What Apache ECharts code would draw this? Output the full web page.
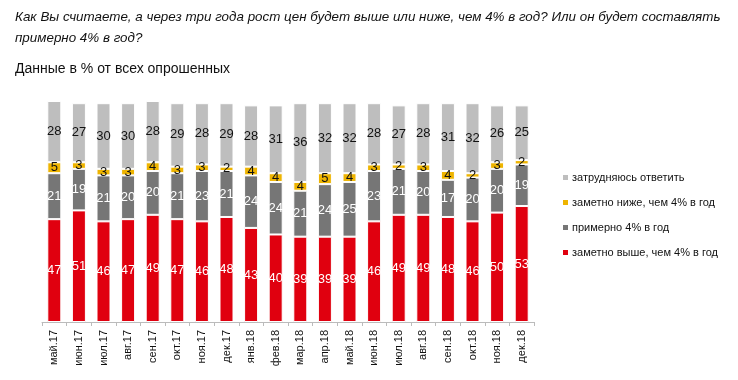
<!DOCTYPE html>
<html><head><meta charset="utf-8">
<script src="https://cdn.jsdelivr.net/npm/echarts@6/dist/echarts.min.js"></script>
<style>html,body{margin:0;padding:0;background:#fff}#c{width:738px;height:380px}</style>
</head><body><div id="c"></div>
<script>
const categories = ['май.17','июн.17','июл.17','авг.17','сен.17','окт.17','ноя.17','дек.17','янв.18','фев.18','мар.18','апр.18','май.18','июн.18','июл.18','авг.18','сен.18','окт.18','ноя.18','дек.18'];
const higher = [47,51,46,47,49,47,46,48,43,40,39,39,39,46,49,49,48,46,50,53];
const about4 = [21,19,21,20,20,21,23,21,24,24,21,24,25,23,21,20,17,20,20,19];
const lower = [5,3,3,3,4,3,3,2,4,4,4,5,4,3,2,3,4,2,3,2];
const unsure = [28,27,30,30,28,29,28,29,28,31,36,32,32,28,27,28,31,32,26,25];

const F = '"Liberation Sans Narrow", "Liberation Sans", sans-serif';
function s(name, data, color, labelColor) {
  return {
    name, type: 'bar', stack: 'a', data, barWidth: 14,
    itemStyle: { color, borderColor: '#fff', borderWidth: 1 },
    label: { show: true, position: 'inside', color: labelColor, fontFamily: F, fontSize: 13 }
  };
}
const chart = echarts.init(document.getElementById('c'));
chart.setOption({
  animation: false,
  title: [
    { text: 'Как Вы считаете, а через три года рост цен будет выше или ниже, чем 4% в год? Или он будет составлять\nпримерно 4% в год?',
      left: 10, top: 2, textStyle: { fontFamily: F, fontStyle: 'italic', fontWeight: 'normal', fontSize: 13.4, color: '#111', lineHeight: 21 } },
    { text: 'Данные в % от всех опрошенных', left: 10, top: 57,
      textStyle: { fontFamily: F, fontWeight: 'normal', fontSize: 14, color: '#111' } }
  ],
  legend: {
    orient: 'vertical', left: 556, top: 167, itemGap: 14, itemWidth: 7, itemHeight: 7,
    icon: 'rect',
    data: ['затрудняюсь ответить','заметно ниже, чем 4% в год','примерно 4% в год','заметно выше, чем 4% в год'],
    textStyle: { fontFamily: F, fontSize: 11, color: '#111', padding: [0,0,0,-2] }
  },
  grid: { left: 42, right: 204, top: 101, bottom: 58, containLabel: false },
  xAxis: {
    type: 'category', data: categories,
    axisLine: { lineStyle: { color: '#bbb' } },
    axisTick: { show: true, length: 4, lineStyle: { color: '#bbb' } },
    axisLabel: { rotate: 90, fontFamily: F, fontSize: 11, color: '#111', margin: 8 }
  },
  yAxis: { type: 'value', min: 0, max: 101, show: false, splitLine: { show: false } },
  series: [
    s('заметно выше, чем 4% в год', higher, '#E0000F', '#fff'),
    s('примерно 4% в год', about4, '#767676', '#fff'),
    s('заметно ниже, чем 4% в год', lower, '#EEB400', '#111'),
    s('затрудняюсь ответить', unsure, '#BEBEBE', '#111')
  ]
});
</script></body></html>
